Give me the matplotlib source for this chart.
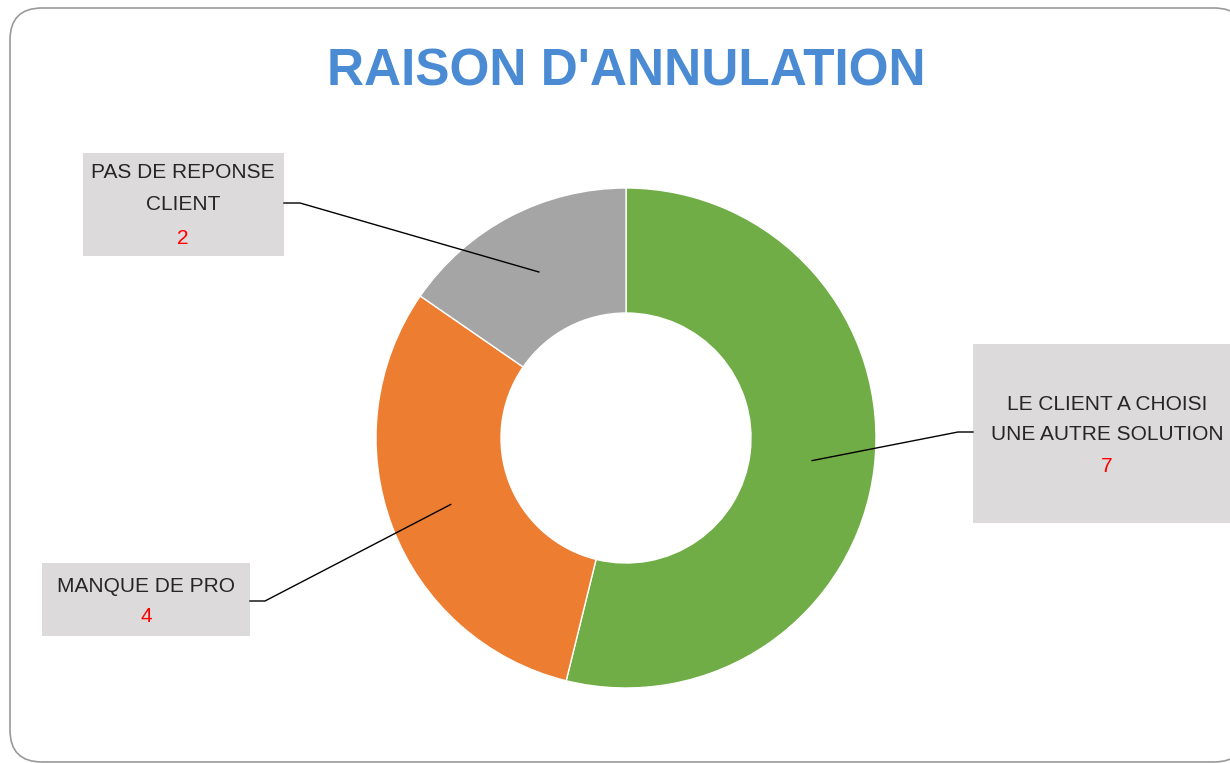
import matplotlib.pyplot as plt
from matplotlib.patches import FancyBboxPatch, Rectangle
import numpy as np

# donnees
categories = ["LE CLIENT A CHOISI\nUNE AUTRE SOLUTION", "MANQUE DE PRO", "PAS DE REPONSE\nCLIENT"]
valeurs = [7, 4, 2]
couleurs = ["#70AD47", "#ED7D31", "#A5A5A5"]
titre = "RAISON D'ANNULATION"

W, H = 1230, 763
fig = plt.figure(figsize=(W / 100, H / 100), dpi=100)
ax = fig.add_axes([0, 0, 1, 1])

# cadre arrondi (le bord droit sort de l'image)
cadre = FancyBboxPatch((10, 1), 1236, 754, boxstyle="round,pad=0,rounding_size=32",
                       facecolor="white", edgecolor="#9A9A9A", linewidth=1.2, zorder=0)
ax.add_patch(cadre)

centre = (626, H - 438)
rayon = 250
wedges, _ = ax.pie(valeurs, colors=couleurs, startangle=90, counterclock=False,
                   center=centre, radius=rayon,
                   wedgeprops=dict(width=rayon * 0.5, edgecolor="white", linewidth=1))

ax.set_xlim(0, W)
ax.set_ylim(0, H)
ax.set_aspect("auto")
ax.axis("off")

ax.text(626, H - 72, titre, ha="center", va="center", fontsize=37,
        fontweight="bold", color="#4A8BD3", family="Liberation Sans")

# boites d'etiquettes (x0, y0_haut, x1, y1_bas) en pixels image
boites = [
    (973, 344, 1240, 523),
    (42, 563, 250, 636),
    (83, 153, 284, 256),
]
centres_txt = [1107, 146, 183]
# point de sortie du trait (cote de la boite) et coude
sorties = [
    ((973, 432), (958, 432)),
    ((250, 601), (265, 601)),
    ((284, 203), (300, 203)),
]
lignes_txt = [
    (404, 434, 467),
    (586, None, 617),
    (172, 204, 238),
]

for w, cat, val, boite, cx, sortie, ly in zip(wedges, categories, valeurs, boites,
                                              centres_txt, sorties, lignes_txt):
    x0, y0, x1, y1 = boite
    ax.add_patch(Rectangle((x0, H - y1), x1 - x0, y1 - y0, facecolor="#DCDADB",
                           edgecolor="none", zorder=3))
    parts = cat.split("\n")
    ax.text(cx, H - ly[0], parts[0], ha="center", va="center", fontsize=15,
            color="#262626", family="Liberation Sans", zorder=4)
    if len(parts) > 1:
        ax.text(cx, H - ly[1], parts[1], ha="center", va="center", fontsize=15,
                color="#262626", family="Liberation Sans", zorder=4)
    ax.text(cx, H - ly[2], str(val), ha="center", va="center", fontsize=15,
            color="#FF0000", family="Liberation Sans", zorder=4)

    # trait de rappel vers le milieu de la part
    ang = np.deg2rad((w.theta1 + w.theta2) / 2)
    px = centre[0] + 0.75 * rayon * np.cos(ang)
    py = centre[1] + 0.75 * rayon * np.sin(ang)
    (sx, sy), (kx, ky) = sortie
    ax.plot([sx, kx, px], [H - sy, H - ky, py], color="black", linewidth=1, zorder=5)

fig.savefig("out.png", dpi=100)
